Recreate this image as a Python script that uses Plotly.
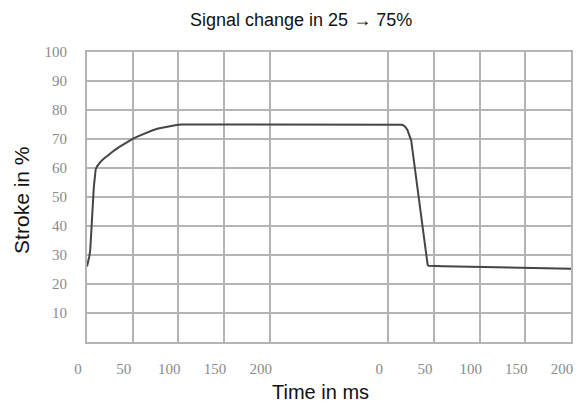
import plotly.graph_objects as go

# Segment 1: signal change 25 -> 75 %  (time in ms)
t_rise = [0, 1, 2.5, 3.5, 4.5, 5.5, 6.5, 7.5, 8.5, 9.5, 11, 13, 15, 18, 22, 26, 30, 35, 40, 45, 51, 57, 62, 67, 72,
          78, 85, 91, 98, 103, 110, 120, 150, 200]
y_rise = [26, 27.2, 29.5, 31.5, 36, 42, 48, 53.5, 57.5, 59.5, 60.6, 61.5, 62.2, 63.1, 64.2, 65.2, 66.1, 67.2, 68.2, 69.2,
          70.2, 71.1, 71.8, 72.4, 73, 73.6, 74.1, 74.5, 74.8, 75, 75, 75, 75, 75]

# Segment 2: signal change 75 -> 25 %  (time in ms)
t_fall = [0, 10, 15, 17, 19, 21, 23, 25, 43, 44, 60, 100, 150, 200]
y_fall = [75, 75, 74.9, 74.6, 74, 73, 71.5, 69.5, 26.6, 26.3, 26.1, 25.8, 25.5, 25.3]

seg_offset = 330  # horizontal position where the second time base starts
tick_vals_1 = [0, 50, 100, 150, 200]
tick_vals_2 = [0, 50, 100, 150, 200]
tick_labels = ["0", "50", "100", "150", "200", "0", "50", "100", "150", "200"]
y_ticks = [0, 10, 20, 30, 40, 50, 60, 70, 80, 90, 100]
y_labels = ["", "10", "20", "30", "40", "50", "60", "70", "80", "90", "100"]

x_all = t_rise + [seg_offset + t for t in t_fall]
y_all = y_rise + y_fall

grid = "#b4b4b4"

fig = go.Figure()
fig.add_trace(go.Scatter(
    x=x_all, y=y_all, mode="lines",
    line=dict(color="#454545", width=2),
    showlegend=False, hoverinfo="skip",
))

tickfont = dict(family="Liberation Serif, serif", size=15, color="#8a8a8a")

fig.update_layout(
    width=578, height=407,
    margin=dict(l=87, r=5, t=52, b=65),
    paper_bgcolor="white", plot_bgcolor="white",
    xaxis=dict(
        range=[0, seg_offset + 200],
        tickmode="array",
        tickvals=tick_vals_1 + [seg_offset + v for v in tick_vals_2],
        ticktext=tick_labels,
        showgrid=True, gridcolor=grid, gridwidth=2,
        zeroline=False,
        showline=True, linecolor=grid, linewidth=2, mirror=True,
        ticks="", tickfont=tickfont,
        ticklabelstandoff=12, ticklabelshift=-9,
    ),
    yaxis=dict(
        range=[0, 100],
        tickmode="array", tickvals=y_ticks, ticktext=y_labels,
        showgrid=True, gridcolor=grid, gridwidth=2,
        zeroline=False,
        showline=True, linecolor=grid, linewidth=2, mirror=True,
        ticks="", tickfont=tickfont,
        ticklabelstandoff=15,
    ),
    annotations=[
        dict(text="Signal change in 25 \u2192 75%", xref="paper", yref="paper",
             x=0.443, y=1.109, xanchor="center", yanchor="middle", showarrow=False,
             font=dict(family="Liberation Sans, Arial, sans-serif", size=18, color="#111111")),
        dict(text="Time in ms", xref="paper", yref="paper",
             x=0.482, y=-0.172, xanchor="center", yanchor="middle", showarrow=False,
             font=dict(family="Liberation Sans, Arial, sans-serif", size=20, color="#111111")),
        dict(text="Stroke in %", xref="paper", yref="paper", textangle=-90,
             x=-0.137, y=0.489, xanchor="center", yanchor="middle", showarrow=False,
             font=dict(family="Liberation Sans, Arial, sans-serif", size=21, color="#111111")),
    ],
)

fig.write_html("out.html")
